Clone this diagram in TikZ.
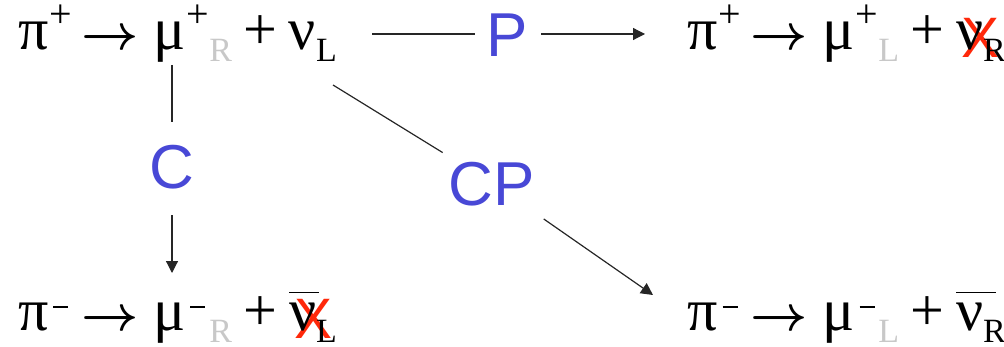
\documentclass[tikz,border=0pt]{standalone}
\usepackage{fontspec}
\setmainfont{Liberation Serif}
\newfontfamily\lsans{Liberation Sans}
\usetikzlibrary{arrows.meta}
\definecolor{lblue}{RGB}{72,72,214}
\definecolor{lgray}{RGB}{200,200,200}
\definecolor{xred}{RGB}{255,40,10}
\newcommand{\Sb}[2][black]{\raisebox{-6pt}{\fontsize{17}{17}\selectfont\textcolor{#1}{#2}}}
\newcommand{\Sp}{\hspace{0.5pt}\makebox[11.3pt]{\raisebox{11.3pt}{\fontsize{20}{20}\selectfont +}}}
\newcommand{\Sm}{\hspace{0.5pt}\makebox[11.3pt]{\raisebox{11pt}{\rule{7.5pt}{1.2pt}}}}
\newcommand{\Ar}{\hspace{4.5pt}{\fontsize{25}{25}\selectfont\boldmath$\rightarrow$}\hspace{7.5pt}}
\newcommand{\Pl}{\hspace{5.8pt}+\hspace{5.8pt}}
\newcommand{\Bar}[1]{\rlap{\raisebox{18.5pt}{\rule{#1}{0.5pt}}}}
\newcommand{\Xo}{\rlap{\hspace{2.5pt}\raisebox{-4pt}{\lsans\fontsize{28.5}{28.5}\selectfont\textcolor{xred}{X}}}}
\tikzset{
  eqn/.style={anchor=base west, inner sep=0pt, font=\fontsize{30}{30}\selectfont},
  lbl/.style={inner sep=0pt, text height=22.5pt, text depth=0pt, text=lblue, font=\lsans\fontsize{31}{31}\selectfont},
  conn/.style={line width=0.6pt, draw=black!85},
  tip/.style={-{Triangle[length=6pt,width=6pt]}}
}
\begin{document}
\begin{tikzpicture}[x=0.5pt,y=-0.5pt]
\useasboundingbox (0,0) rectangle (1004,347);
\node[eqn] (tl) at (18,50) {π\Sp\Ar μ\Sp\Sb[lgray]{R}\Pl ν\Sb{L}};
\node[eqn] (tr) at (687,50) {π\Sp\Ar μ\Sp\Sb[lgray]{L}\Pl\Xo ν\Sb{R}};
\node[eqn] (bl) at (18,330) {π\Sm\Ar μ\Sm\Sb[lgray]{R}\Pl\Xo\Bar{15pt}ν\Sb{L}};
\node[eqn] (br) at (687,330) {π\Sm\Ar μ\Sm\Sb[lgray]{L}\Pl\Bar{20pt}ν\Sb{R}};
\node[lbl] (P) at (507,34) {P};
\node[lbl] (C) at (172,166) {C};
\node[lbl] (CP) at (492,183) {CP};
\coordinate (pA) at (372,34);
\coordinate (pB) at (645,34);
\coordinate (cA) at (172,65);
\coordinate (cB) at (172,273);
\coordinate (cpA) at (333,85);
\coordinate (cpB) at (653,295);
\draw[conn, shorten >=16pt] (pA) -- (P.center);
\draw[conn, tip, shorten <=17pt] (P.center) -- (pB);
\draw[conn, shorten >=22pt] (cA) -- (C.center);
\draw[conn, tip, shorten <=24.5pt] (C.center) -- (cB);
\draw[conn, shorten >=29pt] (cpA) -- (CP.center);
\draw[conn, tip, shorten <=31.5pt] (CP.center) -- (cpB);
\end{tikzpicture}
\end{document}
